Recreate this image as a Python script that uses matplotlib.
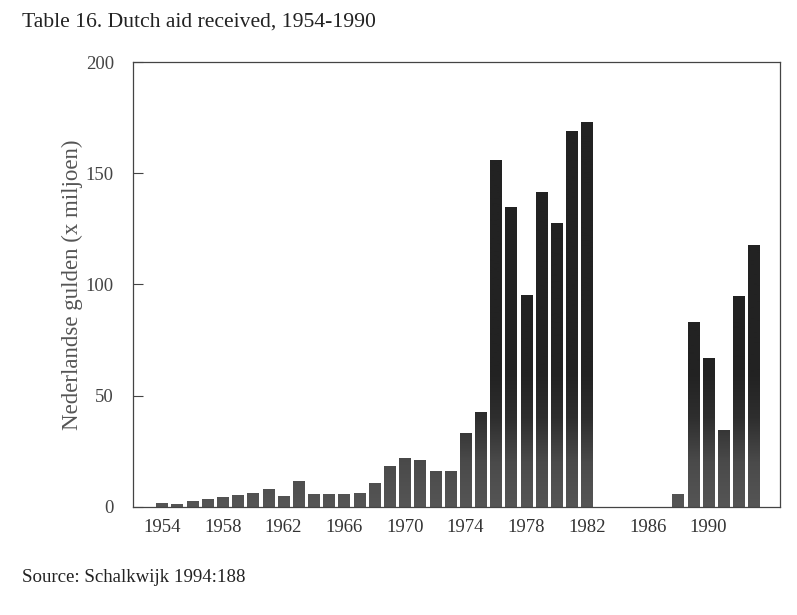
import numpy as np
import matplotlib
matplotlib.use("Agg")
import matplotlib.pyplot as plt
from matplotlib.colors import LinearSegmentedColormap

# jaren en bedragen (x miljoen gulden)
years = list(range(1954, 1994))
aid = [1.8, 1.4, 2.4, 3.5, 4.5, 5.3, 6.0, 8.0, 5.0, 11.5,
       5.7, 5.5, 5.7, 6.0, 10.5, 18.2, 21.7, 21.0, 16.2, 16.0,
       33.0, 42.5, 156.0, 135.0, 95.3, 141.5, 127.6, 169.3, 173.2, 0,
       0, 0, 0, 0, 5.8, 83.3, 67.0, 34.3, 94.9, 117.8]
xticks = list(range(1954, 1991, 4))
yticks = [0, 50, 100, 150, 200]

plt.rcParams['font.family'] = ['Liberation Serif', 'DejaVu Serif']

fig = plt.figure(figsize=(7.97, 6.15), dpi=100)
ax = fig.add_axes([0.1673, 0.1761, 0.8114, 0.7226])

xlim = (1952.11, 1994.71)
bars = ax.bar(years, aid, width=0.76, color='#222222', edgecolor='none')

# gescande balken: onderaan grijzer, bovenaan bijna zwart
cmap = LinearSegmentedColormap.from_list('scan', ['#555555', '#4a4a4a', '#2e2e2e', '#222222'])
grad = np.clip(np.linspace(0, 200, 800) / 60, 0, 1).reshape(-1, 1)
for b in bars:
    im = ax.imshow(grad, cmap=cmap, origin='lower', aspect='auto',
                   extent=(xlim[0], xlim[1], 0, 200), zorder=2)
    im.set_clip_path(b)

ax.set_xlim(*xlim)
ax.set_ylim(0, 200)
ax.set_xticks(xticks)
ax.set_yticks(yticks)
ax.tick_params(axis='x', length=0, pad=9, labelsize=13.5, labelcolor='#333333')
ax.tick_params(axis='y', direction='in', length=7, width=0.8, pad=14,
               labelsize=13.5, labelcolor='#444444', color='#444444')
for s in ax.spines.values():
    s.set_linewidth(0.9)
    s.set_color('#444444')
    s.set_zorder(3)

ax.set_ylabel('Nederlandse gulden (x miljoen)', fontsize=16.5, color='#555555', labelpad=2)

fig.text(22 / 797, 1 - 22 / 615, 'Table 16. Dutch aid received, 1954-1990',
         fontsize=15.6, va='center', ha='left', color='#222222')
fig.text(22 / 797, 1 - 578 / 615, 'Source: Schalkwijk 1994:188',
         fontsize=13.6, va='center', ha='left', color='#222222')

fig.savefig('out.png', dpi=100)
